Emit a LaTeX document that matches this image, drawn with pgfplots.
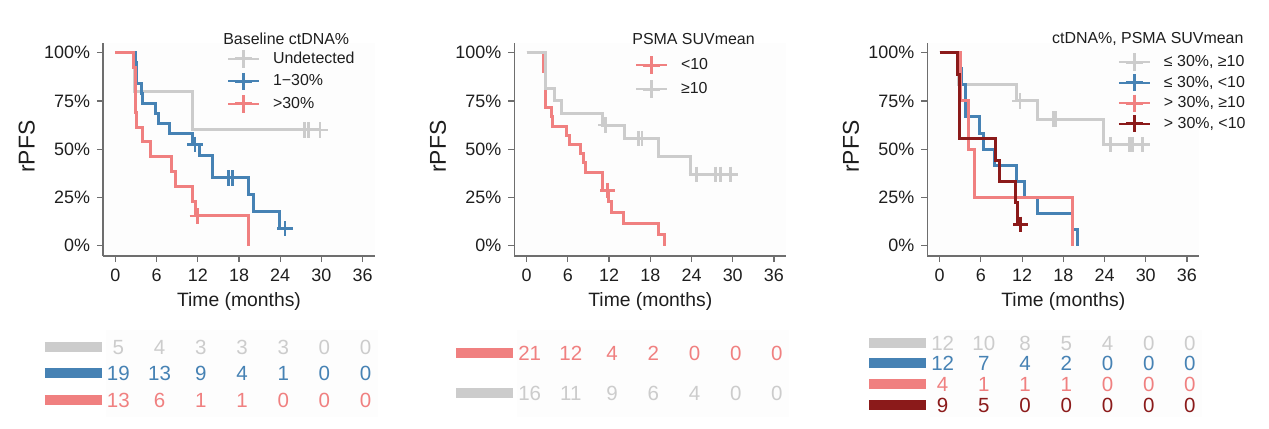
\documentclass[border=0pt]{standalone}
\usepackage{pgfplots}
\pgfplotsset{compat=1.18}
\usepackage{fontspec}
\setmainfont{Liberation Sans}
\definecolor{kgrey}{HTML}{CCCCCC}
\definecolor{kblue}{HTML}{4682B4}
\definecolor{kcoral}{HTML}{F08080}
\definecolor{kdred}{HTML}{8B1A1A}
\definecolor{axc}{HTML}{6E6E6E}
\definecolor{txc}{HTML}{1E1E1E}
\definecolor{bgc}{HTML}{FDFDFD}
\pgfplotsset{
 km/.style={scale only axis, width=136bp, height=106.5bp,
  xmin=-1.8, xmax=37.8, ymin=-0.0534, ymax=1.0503,
  axis x line*=bottom, axis y line*=left, tick align=outside, major tick length=3bp,
  xtick={0,6,12,18,24,30,36}, xticklabels={0,6,12,18,24,30,36},
  ytick={0,0.25,0.5,0.75,1}, yticklabels={0\%,25\%,50\%,75\%,100\%},
  tick label style={font=\fontsize{9}{10}\selectfont, text=txc},
  axis line style={draw=axc, line width=0.6bp},
  every tick/.style={draw=axc, line width=0.6bp},
  axis background/.style={fill=bgc},
  xlabel={Time (months)}, ylabel={rPFS},
  xlabel style={font=\fontsize{9.7}{11}\selectfont, text=txc, at={(axis description cs:0.5,-0.2146)}, anchor=center},
  ylabel style={font=\fontsize{11.5}{13}\selectfont, text=txc, at={(axis description cs:-0.2805,0.513)}, anchor=center},
  clip=false,
  legend cell align=left,
  legend style={draw=none, fill=none, inner sep=0pt, outer sep=0pt, anchor=north west,
    font=\fontsize{8}{9}\selectfont, text=txc, row sep=2.65bp, column sep=6.5bp,
    nodes={inner sep=0pt, text height=6bp, text depth=1.6bp}},
  legend image code/.code={\draw[mark repeat=2,mark phase=2] plot coordinates {(0bp,0bp) (7.75bp,0bp) (15.5bp,0bp)};},
 },
 kml/.style={const plot, mark=none, line width=1.5bp, forget plot},
 cens/.style={only marks, mark=+, mark size=3.8bp, mark options={line width=1.4bp}, forget plot},
 leg/.style={line width=1bp, mark=+, mark size=4.3bp, mark options={line width=1.5bp}},
 risk/.style={scale only axis, width=136bp, height=43.5bp, xmin=-1.8, xmax=37.8,
  ymin=330, ymax=417, y dir=reverse, hide axis, clip=false},
 rnum/.style={draw=none, mark=none, nodes near coords, point meta=explicit symbolic,
  every node near coord/.append style={anchor=center, text=#1, font=\fontsize{10.3}{11}\selectfont,
  inner sep=0pt, text height=7.4bp, text depth=0pt}},
 rbar/.style={#1, line width=5bp, mark=none, forget plot},
}
\begin{document}
\begin{tikzpicture}
\path[use as bounding box] (0bp,0bp) rectangle (634.5bp,-214.5bp);
% ---------------- Panel 1 ----------------
\begin{axis}[km, at={(51.5bp,-128bp)}, anchor=south west,
  legend style={at={(axis description cs:0.4559,0.9653)}}]
\addlegendimage{kgrey, leg}\addlegendentry{Undetected}
\addlegendimage{kblue, leg}\addlegendentry{1−30\%}
\addlegendimage{kcoral, leg}\addlegendentry{>30\%}
\addplot[kml, kgrey] coordinates {(0,1) (2.8,0.8) (11.3,0.6) (29.8,0.6)};
\addplot[cens, kgrey] coordinates {(27.5,0.6) (28.1,0.6) (29.8,0.6)};
\addplot[kml, kblue] coordinates {(0,1) (2.9,0.947) (3.1,0.842) (3.8,0.789) (4.0,0.737) (5.8,0.684) (6.3,0.632) (7.9,0.579) (11.3,0.526) (12.3,0.468) (14.2,0.351) (19.4,0.263) (20.1,0.175) (23.9,0.088) (24.7,0.088)};
\addplot[cens, kblue] coordinates {(11.6,0.526) (16.5,0.351) (17.0,0.351) (24.7,0.088)};
\addplot[kml, kcoral] coordinates {(0,1) (2.6,0.923) (3.0,0.692) (3.1,0.615) (4.0,0.538) (5.1,0.462) (8.2,0.385) (8.7,0.308) (11.3,0.231) (11.6,0.154) (19.4,0)};
\addplot[cens, kcoral] coordinates {(11.9,0.154)};
\node[anchor=west, font=\fontsize{8}{9}\selectfont, text=txc, inner sep=0pt] at (axis description cs:0.441,1.0188) {Baseline ctDNA\%};
\end{axis}
\begin{axis}[risk, at={(53bp,-208.5bp)}, anchor=south west]
\fill[bgc] (rel axis cs:0,0) rectangle (rel axis cs:1,1);
\addplot[rbar=kgrey] coordinates {(-10.7,346.7) (-2.4,346.7)};
\addplot[rbar=kblue] coordinates {(-10.7,373.3) (-2.4,373.3)};
\addplot[rbar=kcoral] coordinates {(-10.7,400.3) (-2.4,400.3)};
\addplot[rnum=kgrey] coordinates {(0,346.7)[5] (6,346.7)[4] (12,346.7)[3] (18,346.7)[3] (24,346.7)[3] (30,346.7)[0] (36,346.7)[0]};
\addplot[rnum=kblue] coordinates {(0,373.3)[19] (6,373.3)[13] (12,373.3)[9] (18,373.3)[4] (24,373.3)[1] (30,373.3)[0] (36,373.3)[0]};
\addplot[rnum=kcoral] coordinates {(0,400.3)[13] (6,400.3)[6] (12,400.3)[1] (18,400.3)[1] (24,400.3)[0] (30,400.3)[0] (36,400.3)[0]};
\end{axis}
% ---------------- Panel 2 ----------------
\begin{axis}[km, at={(257.15bp,-128bp)}, anchor=south west,
  legend style={at={(axis description cs:0.4438,0.937)}, row sep=3.4bp}]
\addlegendimage{kcoral, leg}\addlegendentry{<10}
\addlegendimage{kgrey, leg}\addlegendentry{≥10}
\addplot[kml, kcoral] coordinates {(0,1) (2.5,0.905) (2.8,0.714) (3.65,0.667) (3.8,0.619) (5.85,0.571) (6.3,0.524) (7.9,0.476) (8.3,0.429) (8.6,0.381) (11.1,0.286) (11.95,0.229) (12.4,0.171) (14.1,0.114) (19.2,0.057) (20.1,0)};
\addplot[cens, kcoral] coordinates {(11.8,0.286)};
\addplot[kml, kgrey] coordinates {(0,1) (2.8,0.8125) (4.0,0.75) (5.1,0.6875) (11.1,0.625) (14.2,0.556) (19.2,0.463) (23.9,0.370) (29.7,0.370)};
\addplot[cens, kgrey] coordinates {(11.5,0.625) (16.3,0.556) (16.8,0.556) (24.7,0.370) (27.5,0.370) (28.2,0.370) (29.7,0.370)};
\node[anchor=west, font=\fontsize{8}{9}\selectfont, text=txc, inner sep=0pt] at (axis description cs:0.4327,1.0188) {PSMA SUVmean};
\end{axis}
\begin{axis}[risk, at={(258.65bp,-208.5bp)}, anchor=south west]
\fill[bgc] (rel axis cs:0,0) rectangle (rel axis cs:1,1);
\addplot[rbar=kcoral] coordinates {(-10.7,353.3) (-2.4,353.3)};
\addplot[rbar=kgrey] coordinates {(-10.7,393.3) (-2.4,393.3)};
\addplot[rnum=kcoral] coordinates {(0,353.3)[21] (6,353.3)[12] (12,353.3)[4] (18,353.3)[2] (24,353.3)[0] (30,353.3)[0] (36,353.3)[0]};
\addplot[rnum=kgrey] coordinates {(0,393.3)[16] (6,393.3)[11] (12,393.3)[9] (18,393.3)[6] (24,393.3)[4] (30,393.3)[0] (36,393.3)[0]};
\end{axis}
% ---------------- Panel 3 ----------------
\begin{axis}[km, at={(463.65bp,-128bp)}, anchor=south west,
  legend style={at={(axis description cs:0.701,0.951)}, row sep=1.7bp}]
\addlegendimage{kgrey, leg}\addlegendentry{≤ 30\%, ≥10}
\addlegendimage{kblue, leg}\addlegendentry{≤ 30\%, <10}
\addlegendimage{kcoral, leg}\addlegendentry{> 30\%, ≥10}
\addlegendimage{kdred, leg}\addlegendentry{> 30\%, <10}
\addplot[kml, kgrey] coordinates {(0,1) (2.7,0.833) (11.2,0.75) (14.2,0.656) (23.8,0.525) (29.5,0.525)};
\addplot[cens, kgrey] coordinates {(11.7,0.75) (16.5,0.656) (16.9,0.656) (24.9,0.525) (27.6,0.525) (28.1,0.525) (29.5,0.525)};
\addplot[kml, kblue] coordinates {(0,1) (2.9,0.917) (3.2,0.833) (3.7,0.667) (5.8,0.583) (6.4,0.5) (7.95,0.417) (11.2,0.333) (12.4,0.25) (14.2,0.167) (19.3,0.083) (20.0,0)};
\addplot[kml, kcoral] coordinates {(0,1) (3.0,0.75) (4.2,0.5) (5.0,0.25) (19.3,0)};
\addplot[kml, kdred] coordinates {(0,1) (2.6,0.889) (2.9,0.556) (8.1,0.444) (8.75,0.333) (11.1,0.222) (11.4,0.111) (11.8,0.111)};
\addplot[cens, kdred] coordinates {(11.8,0.111)};
\node[anchor=west, font=\fontsize{8}{9}\selectfont, text=txc, inner sep=0pt] at (axis description cs:0.4574,1.0188) {ctDNA\%, PSMA SUVmean};
\end{axis}
\begin{axis}[risk, at={(465.15bp,-208.5bp)}, anchor=south west]
\fill[bgc] (rel axis cs:0,0) rectangle (rel axis cs:1,1);
\addplot[rbar=kgrey] coordinates {(-10.7,342.7) (-2.4,342.7)};
\addplot[rbar=kblue] coordinates {(-10.7,363.3) (-2.4,363.3)};
\addplot[rbar=kcoral] coordinates {(-10.7,384) (-2.4,384)};
\addplot[rbar=kdred] coordinates {(-10.7,405) (-2.4,405)};
\addplot[rnum=kgrey] coordinates {(0,342.7)[12] (6,342.7)[10] (12,342.7)[8] (18,342.7)[5] (24,342.7)[4] (30,342.7)[0] (36,342.7)[0]};
\addplot[rnum=kblue] coordinates {(0,363.3)[12] (6,363.3)[7] (12,363.3)[4] (18,363.3)[2] (24,363.3)[0] (30,363.3)[0] (36,363.3)[0]};
\addplot[rnum=kcoral] coordinates {(0,384)[4] (6,384)[1] (12,384)[1] (18,384)[1] (24,384)[0] (30,384)[0] (36,384)[0]};
\addplot[rnum=kdred] coordinates {(0,405)[9] (6,405)[5] (12,405)[0] (18,405)[0] (24,405)[0] (30,405)[0] (36,405)[0]};
\end{axis}
\end{tikzpicture}
\end{document}
